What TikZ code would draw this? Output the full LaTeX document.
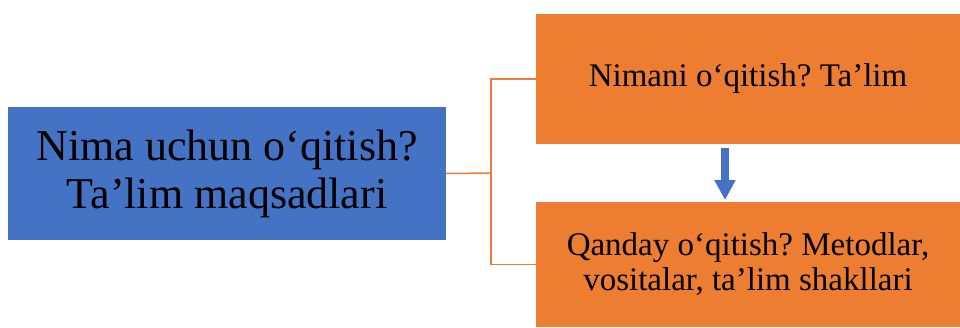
\documentclass[tikz,border=0pt]{standalone}
\usepackage{fontspec}
\setmainfont{Liberation Serif}
\frenchspacing
\usetikzlibrary{arrows.meta}
\definecolor{bblue}{HTML}{4472C4}
\definecolor{borange}{HTML}{ED7D31}
\tikzset{
  box/.style={draw=none, inner sep=0pt, align=center, text=black},
  link/.style={draw=borange, line width=1.5pt},
}
\begin{document}
\begin{tikzpicture}[x=1pt,y=1pt]
\useasboundingbox (0,0) rectangle (960,327);
\node[box, fill=bblue, minimum width=438pt, minimum height=133pt,
      font=\fontsize{44}{48}\selectfont] (goal) at (227,153.5)
  {Nima uchun o‘qitish?\\Ta’lim maqsadlari};
\node[box, fill=borange, minimum width=424pt, minimum height=130pt,
      font=\fontsize{33}{35}\selectfont] (what) at (748,248)
  {Nimani o‘qitish? Ta’lim};
\node[box, fill=borange, minimum width=424pt, minimum height=125pt,
      font=\fontsize{33}{35}\selectfont] (how) at (748,62.5)
  {Qanday o‘qitish? Metodlar,\\vositalar, ta’lim shakllari};
\coordinate (j) at (491,154);
\draw[link] (goal.east) -- (j);
\draw[link] (what.west) -| (j) |- (how.west);
\coordinate (a1) at (725,179);
\coordinate (a2) at (725,127);
\draw[draw=bblue, line width=8pt, -{Triangle[width=20pt,length=20pt]}] (a1) -- (a2);
\end{tikzpicture}
\end{document}
